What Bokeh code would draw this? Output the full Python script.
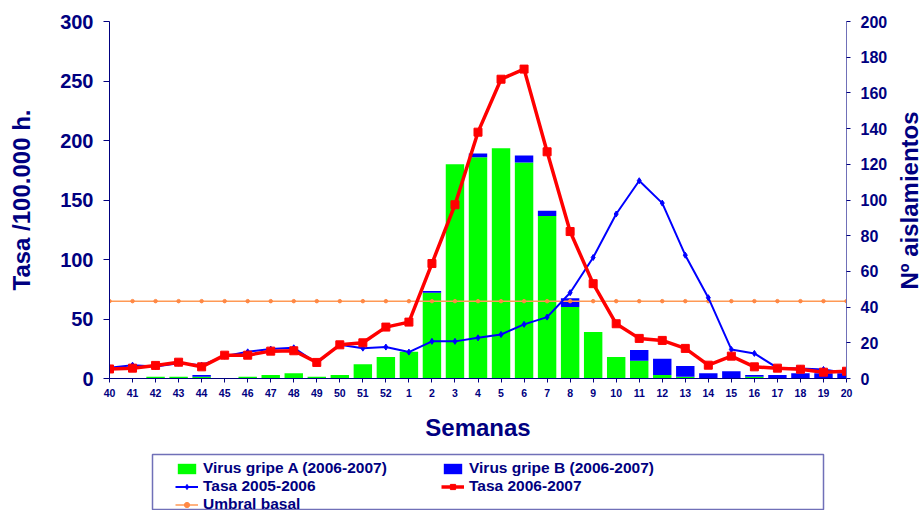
import math
from bokeh.plotting import figure
from bokeh.layouts import column, row
from bokeh.models import (Range1d, LinearAxis, FixedTicker, Legend, LegendItem,
                          Label, ColumnDataSource)
from bokeh.embed import file_html
from bokeh.resources import INLINE

weeks = ["40", "41", "42", "43", "44", "45", "46", "47", "48", "49", "50", "51", "52",
         "1", "2", "3", "4", "5", "6", "7", "8", "9", "10", "11", "12", "13", "14",
         "15", "16", "17", "18", "19", "20"]

virus_a = [0, 0, 1, 1, 1, 0, 1, 2, 3, 1, 2, 8, 12,
           15, 48, 120, 124, 129, 121, 91, 40, 26, 12, 10, 2, 1, 0,
           0, 1, 0, 0, 0, 0]
virus_b = [0, 0, 0, 0, 1, 0, 0, 0, 0, 0, 0, 0, 0,
           0, 1, 0, 2, 0, 4, 3, 5, 0, 0, 6, 9, 6, 3,
           4, 1, 2, 3, 3, 3]
tasa_0506 = [9.0, 11.2, 10.1, 12.9, 11.2, 18.8, 22.4, 24.7, 25.8, 12.9, 28.3, 25.5, 26.4,
             22.2, 31.2, 31.2, 34.2, 37.0, 45.5, 51.6, 72.1, 101.7, 138.2, 166.2, 147.4, 103.6, 67.9,
             24.4, 21.1, 8.9, 8.4, 7.6, 4.7]
tasa_0607 = [8.0, 8.7, 11.0, 13.7, 9.8, 19.6, 19.6, 23.0, 23.3, 13.5, 28.3, 30.0, 43.2,
             47.4, 96.6, 146.0, 207.0, 251.5, 260.0, 190.5, 123.5, 79.7, 46.0, 33.7, 32.0, 25.3, 11.2,
             18.8, 9.8, 8.7, 7.8, 5.3, 6.1]
umbral_basal = 65.0
umbral = [umbral_basal] * len(weeks)

NAVY = "#000080"
FONT = "Liberation Sans"
GREEN, BLUE, RED, ORANGE = "#00FF00", "#0000FF", "#FF0000", "#FF9955"
BOX = "#7070B8"

src = ColumnDataSource(dict(
    x=list(range(len(weeks))), a=virus_a, b=virus_b,
    t1=tasa_0506, t2=tasa_0607, u=umbral))

# ---------------- main chart ----------------
p = figure(width=890, height=445, x_range=Range1d(0, len(weeks) - 1), y_range=Range1d(0, 300),
           output_backend="svg", toolbar_location=None,
           min_border_left=109, min_border_right=42, min_border_top=21, min_border_bottom=67)
p.extra_y_ranges = {"right": Range1d(0, 200)}
p.outline_line_color = None
p.xgrid.visible = False
p.ygrid.visible = False

bars = p.vbar_stack(["a", "b"], x="x", width=0.8, source=src, y_range_name="right",
                    color=[GREEN, BLUE], line_color=None)

p.line("x", "u", source=src, color=ORANGE, line_width=1.5)
p.scatter("x", "u", source=src, marker="circle", size=3.5, color="#FF8844")
p.line("x", "t1", source=src, color=BLUE, line_width=2)
p.scatter("x", "t1", source=src, marker="diamond", size=6, color=BLUE)
p.line("x", "t2", source=src, color=RED, line_width=3.5)
p.scatter("x", "t2", source=src, marker="square", size=8, color=RED)

xa = p.xaxis[0]
xa.ticker = FixedTicker(ticks=list(range(len(weeks))))
xa.major_label_overrides = {i: w for i, w in enumerate(weeks)}
xa.minor_tick_line_color = None
xa.major_tick_out = 4
xa.major_tick_in = 0
xa.major_tick_line_color = NAVY
xa.axis_line_color = NAVY
xa.major_label_text_font = FONT
xa.major_label_text_font_style = "bold"
xa.major_label_text_font_size = "10.5px"
xa.major_label_text_color = NAVY
xa.major_label_standoff = 6
xa.axis_label = "Semanas"
xa.axis_label_text_font = FONT
xa.axis_label_text_font_style = "bold"
xa.axis_label_text_font_size = "24px"
xa.axis_label_text_color = NAVY
xa.axis_label_standoff = 14

ya = p.yaxis[0]
ya.ticker = FixedTicker(ticks=[0, 50, 100, 150, 200, 250, 300])
ya.minor_tick_line_color = None
ya.major_tick_out = 6
ya.major_tick_in = 0
ya.major_tick_line_color = NAVY
ya.axis_line_color = NAVY
ya.major_label_text_font = FONT
ya.major_label_text_font_style = "bold"
ya.major_label_text_font_size = "20px"
ya.major_label_text_color = NAVY
ya.major_label_standoff = 10
ya.axis_label = "Tasa /100.000 h."
ya.axis_label_text_font = FONT
ya.axis_label_text_font_style = "bold"
ya.axis_label_text_font_size = "24px"
ya.axis_label_text_color = NAVY
ya.axis_label_standoff = 22

ra = LinearAxis(y_range_name="right", ticker=FixedTicker(ticks=list(range(0, 201, 20))))
ra.minor_tick_line_color = None
ra.major_tick_out = 4
ra.major_tick_in = 0
ra.major_tick_line_color = NAVY
ra.axis_line_color = BOX
ra.major_label_text_font = FONT
ra.major_label_text_font_style = "bold"
ra.major_label_text_font_size = "16px"
ra.major_label_text_color = NAVY
ra.major_label_standoff = 10
p.add_layout(ra, "right")

# ---------------- right-hand axis title ----------------
pt = figure(width=32, height=445, x_range=Range1d(0, 1), y_range=Range1d(0, 1),
            output_backend="svg", toolbar_location=None, x_axis_type=None, y_axis_type=None,
            min_border=0, min_border_left=0, min_border_right=0, min_border_top=0, min_border_bottom=0)
pt.outline_line_color = None
pt.add_layout(Label(x=19, y=178, x_units="screen", y_units="screen", text="Nº aislamientos",
                    angle=math.pi / 2, text_align="center", text_baseline="middle",
                    text_font=FONT, text_font_style="bold", text_font_size="24px",
                    text_color=NAVY))

# ---------------- legend strip ----------------
pl = figure(width=922, height=65, x_range=Range1d(0, 1), y_range=Range1d(0, 1),
            output_backend="svg", toolbar_location=None, x_axis_type=None, y_axis_type=None,
            min_border_left=152, min_border_right=99, min_border_top=9, min_border_bottom=0)
pl.outline_line_color = BOX
pl.outline_line_width = 1.5
# legend-only glyph renderers (their single point lies outside the visible range)
off = [-5.0]
off2 = [-5.0, -4.0]
g_a = pl.vbar(x=off, top=off, width=0.8, color=GREEN, line_color=None)
g_b = pl.vbar(x=off, top=off, width=0.8, color=BLUE, line_color=None)
g_t1 = pl.line(x=off2, y=off2, color=BLUE, line_width=2)
g_t1m = pl.scatter(x=off, y=off, marker="diamond", size=6, color=BLUE)
g_t2 = pl.line(x=off2, y=off2, color=RED, line_width=3.5)
g_t2m = pl.scatter(x=off, y=off, marker="square", size=8, color=RED)
g_u = pl.line(x=off2, y=off2, color=ORANGE, line_width=1.5)
g_um = pl.scatter(x=off, y=off, marker="circle", size=3.5, color="#FF8844")

legend = Legend(items=[
    LegendItem(label="Virus gripe A (2006-2007)", renderers=[g_a]),
    LegendItem(label="Tasa 2005-2006", renderers=[g_t1, g_t1m]),
    LegendItem(label="Umbral basal", renderers=[g_u, g_um]),
    LegendItem(label="Virus gripe B (2006-2007)", renderers=[g_b]),
    LegendItem(label="Tasa 2006-2007", renderers=[g_t2, g_t2m]),
], orientation="vertical", nrows=3, location=(23, -3))
legend.label_text_font = FONT
legend.label_text_font_style = "bold"
legend.label_text_font_size = "15.5px"
legend.label_text_color = NAVY
legend.label_width = 238
legend.label_height = 18
legend.glyph_width = 23
legend.glyph_height = 13
legend.label_standoff = 5
legend.spacing = 0
legend.padding = 6
legend.border_line_color = None
legend.background_fill_alpha = 0
pl.add_layout(legend, "center")

layout = column(row(p, pt, spacing=0), pl, spacing=0)
open("out.html", "w").write(file_html(layout, INLINE))
